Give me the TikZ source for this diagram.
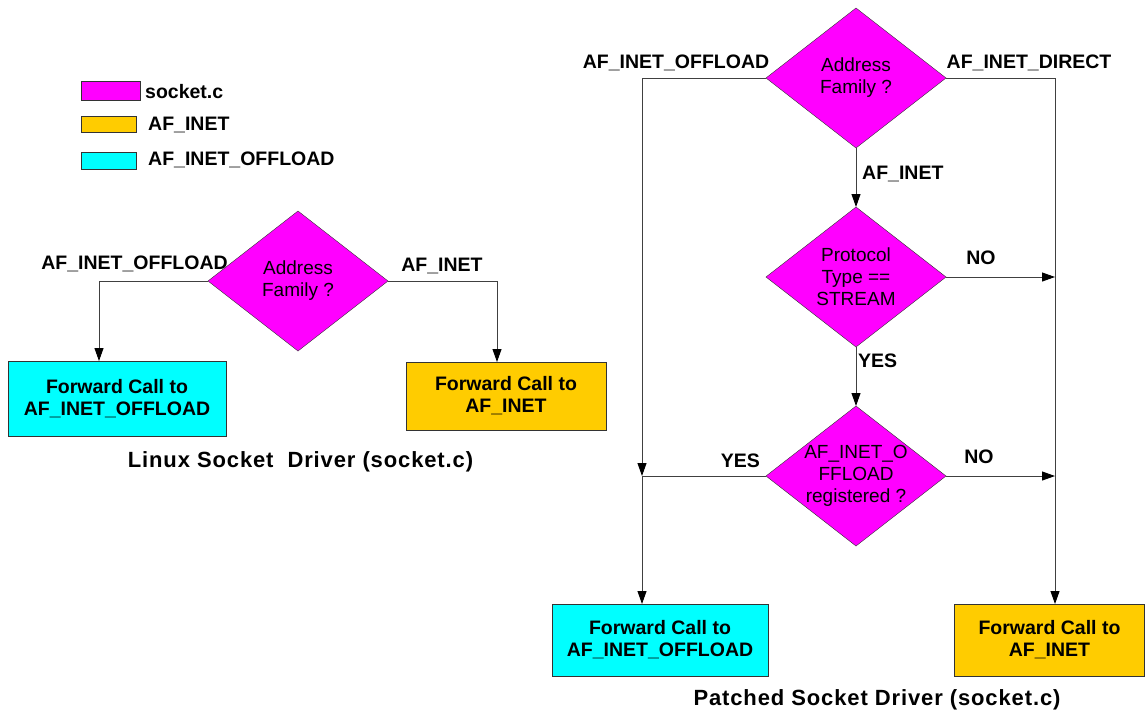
\documentclass[tikz,border=0pt]{standalone}
\usepackage{fontspec}
\setmainfont{Liberation Sans}
\newfontfamily\capfamily[LetterSpace=4]{Liberation Sans}
\usetikzlibrary{shapes.geometric, arrows.meta}

\definecolor{socketc}{HTML}{FF00FF}
\definecolor{afinet}{HTML}{FFCC00}
\definecolor{afoff}{HTML}{00FFFF}
\definecolor{wire}{HTML}{404040}

\newcommand{\labfont}{\bfseries\fontsize{19.5}{22}\selectfont}
\newcommand{\diafont}{\fontsize{19}{22}\selectfont}
\newcommand{\capfont}{\capfamily\bfseries\fontsize{22}{26}\selectfont}

\begin{document}
\begin{tikzpicture}[
        x=1pt, y=-1pt,
        decide/.style={diamond, draw=black!80, fill=socketc, aspect=1.29,
            minimum width=180pt, minimum height=140pt, inner sep=-4pt,
            outer sep=0pt, align=center, font=\diafont}, % Ромб решения
        callbox/.style={rectangle, draw=black!80, inner sep=0pt, outer sep=0pt,
            align=center, font=\labfont}, % Блок вызова
        legbox/.style={rectangle, draw=black!80, inner sep=0pt, outer sep=0pt},
        tag/.style={font=\labfont, inner sep=0pt},
        wireline/.style={draw=wire, line width=0.9pt},
        arr/.style={wireline, -{Triangle[length=13pt, width=9pt, color=black]}},
    ]
    \useasboundingbox (0,0) rectangle (1145,713);

    % Легенда
    \node[legbox, fill=socketc, minimum width=59pt, minimum height=19pt] (leg1) at (110.5,91) {};
    \node[legbox, fill=afinet, minimum width=55pt, minimum height=16pt] (leg2) at (108.5,124) {};
    \node[legbox, fill=afoff, minimum width=55pt, minimum height=17pt] (leg3) at (108.5,160.5) {};
    \node[tag, anchor=west] (legt1) at (145,92) {socket.c};
    \node[tag, anchor=west] (legt2) at (148,125) {AF\_INET};
    \node[tag, anchor=west] (legt3) at (148,160) {AF\_INET\_OFFLOAD};

    % Linux Socket Driver
    \node[decide] (lfam) at (298,281) {Address\\Family ?};
    \node[callbox, fill=afoff, minimum width=218pt, minimum height=75pt] (loff) at (117,398.5)
        {Forward Call to\\AF\_INET\_OFFLOAD};
    \node[callbox, fill=afinet, minimum width=200pt, minimum height=68pt] (linet) at (506,396)
        {Forward Call to\\AF\_INET};
    \draw[arr] (lfam.west) -| ([xshift=-18pt]loff.north);
    \draw[arr] (lfam.east) -| ([xshift=-9pt]linet.north);
    \node[tag] (ltoff) at (134.5,264) {AF\_INET\_OFFLOAD};
    \node[tag] (ltinet) at (442,266) {AF\_INET};
    \node[font=\capfont] (lcap) at (300.5,462) {Linux Socket~ Driver (socket.c)};

    % Patched Socket Driver
    \node[decide] (rfam) at (856,78) {Address\\Family ?};
    \node[decide] (rproto) at (856,277) {Protocol\\Type ==\\STREAM};
    \node[decide] (rreg) at (856,476) {AF\_INET\_O\\FFLOAD\\registered ?};
    \node[callbox, fill=afoff, minimum width=216pt, minimum height=72pt] (roff) at (660,640)
        {Forward Call to\\AF\_INET\_OFFLOAD};
    \node[callbox, fill=afinet, minimum width=190pt, minimum height=72pt] (rinet) at (1049.5,640)
        {Forward Call to\\AF\_INET};
    \coordinate (jl) at (642,476);
    \coordinate (jr1) at (1055,277);
    \coordinate (jr2) at (1055,476);

    \draw[arr] (rfam.south) -- (rproto.north);
    \draw[arr] (rproto.south) -- (rreg.north);
    \draw[arr] (rfam.west) -| (jl);
    \draw[wireline] (rreg.west) -- (jl);
    \draw[arr] (jl) -- (roff.north -| jl);
    \draw[wireline] (rfam.east) -| (jr2);
    \draw[arr] (rproto.east) -- (jr1);
    \draw[arr] (rreg.east) -- (jr2);
    \draw[arr] (jr2) -- (rinet.north -| jr2);

    \node[tag] (rtoff) at (676,63) {AF\_INET\_OFFLOAD};
    \node[tag] (rtdir) at (1029,63) {AF\_INET\_DIRECT};
    \node[tag, anchor=west] (rtinet) at (862,174) {AF\_INET};
    \node[tag] (rtno1) at (981,258) {NO};
    \node[tag, anchor=west] (rtyes1) at (858,361) {YES};
    \node[tag] (rtno2) at (979,457) {NO};
    \node[tag, anchor=east] (rtyes2) at (760,461) {YES};
    \node[font=\capfont] (rcap) at (877,700) {Patched Socket Driver (socket.c)};

\end{tikzpicture}
\end{document}
